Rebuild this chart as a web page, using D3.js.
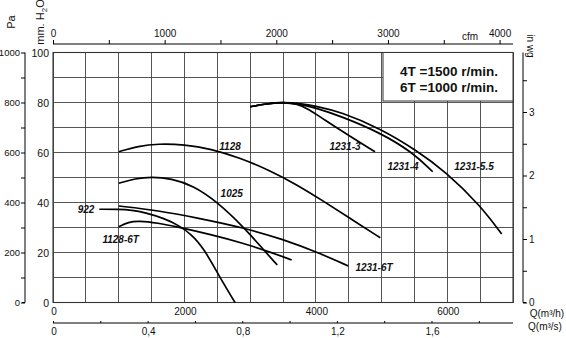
<!DOCTYPE html>
<html><head><meta charset="utf-8">
<script src="https://cdn.jsdelivr.net/npm/d3@7"></script>
<style>
body{margin:0;background:#fff}
svg{display:block}
text{font-family:"Liberation Sans",Arial,sans-serif;fill:#111}
</style></head><body>
<svg id="c" width="566" height="338"></svg>
<script>
// ---- data (Q in m3/h, p in mm H2O) ----
const names = ["1128","1025","922","1231-6T","1128-6T","1231-3","1231-4","1231-5.5"];
const q1128 = [1000,1300,1600,2000,2400,2850,3300,3700,4100,4500,4980];
const p1128 = [60.3,62.6,63.5,63.2,61.5,57.8,52.8,47.3,40.8,34,25.9];
const q1025 = [1000,1250,1500,1800,2130,2490,2920,3200,3413];
const p1025 = [47.7,49.6,50.3,49.6,46.8,40.5,29.7,21.2,15];
const q922 = [705,1000,1200,1400,1700,1900,2100,2300,2540,2770];
const p922 = [37.3,37.3,37,36,33.6,31,27.5,21.5,10,0];
const q1231_6T = [1000,1600,2200,2900,3500,4060,4494];
const p1231_6T = [38.6,36.8,33.8,29.9,25.3,19.7,14.6];
const q1128_6T = [1000,1150,1300,1600,1880,2400,2900,3300,3632];
const p1128_6T = [30.3,32.2,32.7,31.8,30.3,27.2,23.7,20.2,17];
const q1231_3 = [3000,3250,3500,3700,3900,4110,4520,4900];
const p1231_3 = [78.3,79.5,80.1,79.6,77.3,73.4,66.5,60.3];
const q1231_4 = [3000,3250,3500,3750,4000,4370,4976,5480,5778];
const p1231_4 = [78.3,79.5,80.1,79.4,77.8,74.6,68,59.9,52.3];
const q1231_55 = [3000,3250,3500,3750,4000,4370,4976,5535,5965,6498,6828];
const p1231_55 = [78.3,79.5,80.1,79.6,78.6,76.3,69.7,60.8,52.5,39,27.4];
const seriesQ = [q1128,q1025,q922,q1231_6T,q1128_6T,q1231_3,q1231_4,q1231_55];
const seriesP = [p1128,p1025,p922,p1231_6T,p1128_6T,p1231_3,p1231_4,p1231_55];
// label anchor points (data coords)
const labelQ = [2694,2720,502,4885,1030,4443,5326,6407];
const labelP = [61,42.2,35.8,12.6,24,61.2,53.2,53.2];

const mmTicks = [0,20,40,60,80,100];
const paTicks = [0,200,400,600,800,1000];
const m3hTicks = [0,2000,4000,6000];
const m3sTicks = [0,0.4,0.8,1.2,1.6];
const cfmTicks = [0,1000,2000,3000,4000];
const inwgTicks = [0,1,2,3];
const legendLines = ["4T =1500 r/min.","6T =1000 r/min."];

// ---- layout ----
const L=53, R=513, T=52.5, B=302.5;
const svg = d3.select("#c");
const x = d3.scaleLinear().domain([0,7000]).range([L,R]);
const y = d3.scaleLinear().domain([0,100]).range([B,T]);
const yPa = d3.scaleLinear().domain([0,1000]).range([B,T]);
const xCfm = d3.scaleLinear().domain([0,7000/1.699]).range([L,R]);
const xM3s = d3.scaleLinear().domain([0,7000/3600]).range([L,R]);
const yIn = d3.scaleLinear().domain([0,100/25.4]).range([B,T]);

// grid
const g = svg.append("g").attr("stroke","#444").attr("stroke-width",0.9).attr("shape-rendering","crispEdges");
d3.range(0,7001,500).forEach(v=>g.append("line").attr("x1",x(v)).attr("x2",x(v)).attr("y1",T).attr("y2",B));
d3.range(0,101,10).forEach(v=>g.append("line").attr("x1",L).attr("x2",R).attr("y1",y(v)).attr("y2",y(v)));
svg.append("rect").attr("x",L).attr("y",T).attr("width",R-L).attr("height",B-T)
  .attr("fill","none").attr("stroke","#333").attr("stroke-width",1.1);

// legend box
svg.append("rect").attr("x",383).attr("y",T).attr("width",R-383).attr("height",101-T)
  .attr("fill","#fff").attr("stroke","#333").attr("stroke-width",1);
legendLines.forEach((t,i)=>svg.append("text").attr("x",449).attr("y",76+i*16)
  .attr("text-anchor","middle").attr("font-size",13.5).attr("font-weight","bold").text(t));

// curves
const line = d3.line().x(d=>x(d[0])).y(d=>y(d[1])).curve(d3.curveBasis);
seriesQ.forEach((qs,i)=>{
  const pts = qs.map((q,j)=>[q,seriesP[i][j]]);
  svg.append("path").attr("d",line(pts)).attr("fill","none").attr("stroke","#000").attr("stroke-width",1.7);
});
names.forEach((n,i)=>svg.append("text").attr("x",x(labelQ[i])).attr("y",y(labelP[i]))
  .attr("text-anchor","middle").attr("font-size",10).attr("font-weight","bold").attr("font-style","italic").text(n));

// left mm labels
mmTicks.forEach(v=>svg.append("text").attr("x",49).attr("y",y(v)+4).attr("text-anchor","end").attr("font-size",10.5).text(v));

// Pa axis
const paAx = svg.append("g").attr("transform","translate(25,0)")
  .call(d3.axisLeft(yPa).tickValues(d3.range(0,1001,100)).tickSize(4).tickPadding(1).tickFormat(d=>paTicks.includes(d)?d:""));
paAx.selectAll("text").attr("font-size",9.5).attr("font-family","Liberation Sans");
paAx.select(".domain").attr("d",`M-0,${T}H0V${B}H-3`);

// top cfm axis
const cfAx = svg.append("g").attr("transform","translate(0,44)")
  .call(d3.axisTop(xCfm).tickValues(d3.range(0,4001,500)).tickSize(4).tickFormat(d=>cfmTicks.includes(d)?d:""));
cfAx.selectAll("text").attr("font-size",10).attr("font-family","Liberation Sans");
cfAx.select(".domain").attr("d",`M${L},0H${R}`);
svg.append("text").attr("x",470).attr("y",40).attr("text-anchor","middle").attr("font-size",10).text("cfm");

// right in wg axis
const inAx = svg.append("g").attr("transform","translate(523,0)")
  .call(d3.axisRight(yIn).tickValues(d3.range(0,3.51,0.5)).tickSize(4).tickFormat(d=>inwgTicks.includes(d)?d:""));
inAx.selectAll("text").attr("font-size",10).attr("font-family","Liberation Sans").attr("dx",-1);
inAx.select(".domain").attr("d",`M0,${T}V${B}H3`);
svg.append("text").attr("transform","translate(527,46) rotate(90)").attr("text-anchor","middle").attr("font-size",10).text("in wg");

// bottom m3/h labels
m3hTicks.forEach(v=>svg.append("text").attr("x",x(v)+1).attr("y",315).attr("text-anchor","middle").attr("font-size",10).text(v));

// bottom m3/s axis
const sAx = svg.append("g").attr("transform","translate(0,323)")
  .call(d3.axisTop(xM3s).tickValues(d3.range(0,1.81,0.2)).tickSize(2).tickFormat(""));
sAx.select(".domain").attr("d",`M${L},0H${R}`);
m3sTicks.forEach(v=>svg.append("text").attr("x",xM3s(v)+1).attr("y",335).attr("text-anchor","middle").attr("font-size",10)
  .text(d3.format("~g")(v).replace(".",",")));

// axis titles
svg.append("text").attr("transform","translate(15,22) rotate(-90)").attr("text-anchor","middle").attr("font-size",11).text("Pa");
const mm = svg.append("text").attr("transform","translate(44,22) rotate(-90)").attr("text-anchor","middle").attr("font-size",11);
mm.append("tspan").text("mm. H");
mm.append("tspan").attr("font-size",8).attr("dy",3).text("2");
mm.append("tspan").attr("dy",-3).text("O");
svg.append("text").attr("x",547).attr("y",317).attr("text-anchor","middle").attr("font-size",10).text("Q(m³/h)");
svg.append("text").attr("x",545).attr("y",330).attr("text-anchor","middle").attr("font-size",10).text("Q(m³/s)");
</script>
</body></html>
